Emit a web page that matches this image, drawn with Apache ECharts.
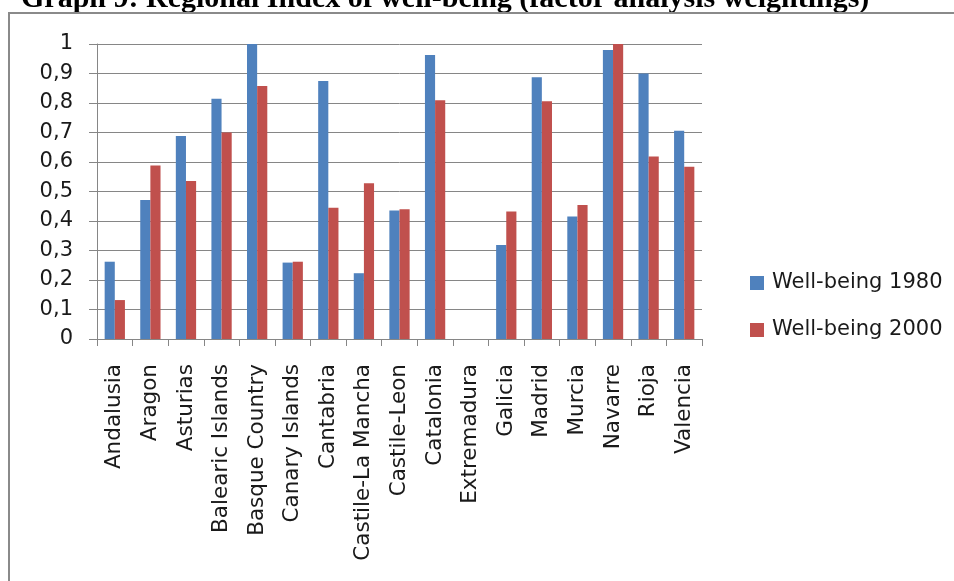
<!DOCTYPE html>
<html>
<head>
<meta charset="utf-8">
<script src="https://cdn.jsdelivr.net/npm/echarts@6/dist/echarts.min.js"></script>
<style>
  html, body { margin: 0; padding: 0; background: #fff; }
  #chart { width: 954px; height: 581px; }
</style>
</head>
<body>
<div id="chart"></div>
<script>
// Regions of Spain (x-axis categories)
const regions = [
  'Andalusia', 'Aragon', 'Asturias', 'Balearic Islands', 'Basque Country',
  'Canary Islands', 'Cantabria', 'Castile-La Mancha', 'Castile-Leon', 'Catalonia',
  'Extremadura', 'Galicia', 'Madrid', 'Murcia', 'Navarre', 'Rioja', 'Valencia'
];

// Well-being index, 1980
const wellBeing1980 = [
  0.262, 0.471, 0.688, 0.814, 1.000,
  0.259, 0.875, 0.223, 0.436, 0.963,
  0.000, 0.319, 0.887, 0.415, 0.980, 0.900, 0.706
];

// Well-being index, 2000
const wellBeing2000 = [
  0.132, 0.588, 0.536, 0.700, 0.858,
  0.262, 0.445, 0.528, 0.440, 0.809,
  0.000, 0.432, 0.806, 0.454, 1.000, 0.619, 0.584
];

// Value-axis tick labels (decimal comma)
const yTickLabels = ['0', '0,1', '0,2', '0,3', '0,4', '0,5', '0,6', '0,7', '0,8', '0,9', '1'];

const seriesNames = ['Well-being 1980', 'Well-being 2000'];
const titleText = 'Graph 9: Regional Index of well-being (factor analysis weightings)';

const gridColor = '#868686';
const textFont = 'DejaVu Sans';

const chart = echarts.init(document.getElementById('chart'), null, { renderer: 'canvas' });

chart.setOption({
  animation: false,
  backgroundColor: '#ffffff',
  graphic: [
    {
      type: 'text',
      left: 21,
      top: -16,
      style: {
        text: titleText,
        font: 'bold 30px "Liberation Serif"',
        fill: '#000000'
      }
    },
    {
      type: 'rect',
      shape: { x: 9, y: 13, width: 1000, height: 700 },
      style: { fill: 'none', stroke: '#8a8a8a', lineWidth: 2 },
      silent: true
    }
  ],
  legend: {
    orient: 'vertical',
    left: 745,
    top: 267,
    itemWidth: 14,
    itemHeight: 14,
    itemGap: 25,
    icon: 'rect',
    data: seriesNames,
    textStyle: {
      fontFamily: textFont,
      fontSize: 21,
      color: '#1a1a1a',
      lineHeight: 22,
      padding: [0, 0, 0, 3]
    }
  },
  grid: {
    left: 97,
    right: 252,
    top: 44,
    bottom: 242,
    containLabel: false
  },
  xAxis: {
    type: 'category',
    data: regions,
    boundaryGap: true,
    axisLine: { show: true, lineStyle: { color: gridColor, width: 1 } },
    axisTick: { show: true, length: 7, alignWithLabel: false, lineStyle: { color: gridColor } },
    axisLabel: {
      rotate: 90,
      interval: 0,
      margin: 25,
      fontFamily: textFont,
      fontSize: 21.5,
      color: '#1a1a1a'
    },
    splitLine: { show: false }
  },
  yAxis: {
    type: 'value',
    min: 0,
    max: 1,
    interval: 0.1,
    axisLine: { show: true, lineStyle: { color: gridColor, width: 1 } },
    axisTick: { show: true, length: 8, inside: false, lineStyle: { color: gridColor } },
    axisLabel: {
      margin: 24,
      fontFamily: textFont,
      fontSize: 21,
      color: '#1a1a1a',
      formatter: function (v) {
        return yTickLabels[Math.round(v * 10)];
      }
    },
    splitLine: { show: true, lineStyle: { color: gridColor, width: 1 } }
  },
  series: [
    {
      name: seriesNames[0],
      type: 'bar',
      data: wellBeing1980,
      barGap: '0%',
      barCategoryGap: '43%',
      itemStyle: { color: '#4F81BD' }
    },
    {
      name: seriesNames[1],
      type: 'bar',
      data: wellBeing2000,
      barGap: '0%',
      barCategoryGap: '43%',
      itemStyle: { color: '#C0504D' }
    }
  ]
});
</script>
</body>
</html>
